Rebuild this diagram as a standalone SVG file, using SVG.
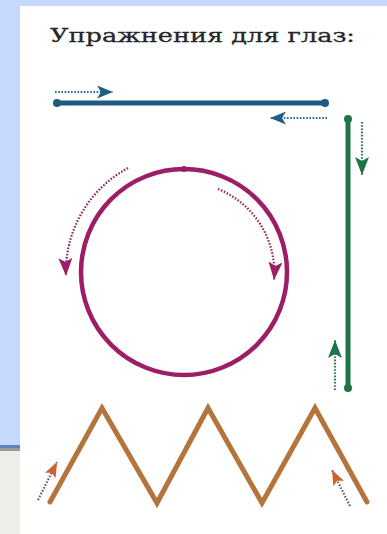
<svg xmlns="http://www.w3.org/2000/svg" width="387" height="534" viewBox="0 0 387 534">
<style>
.dot{fill:none;stroke-width:2.2;stroke-dasharray:1.6 1.6}
.title{font-family:"DejaVu Serif","Liberation Serif",serif;font-size:19px;fill:#262626;stroke:#262626;stroke-width:0.3}
</style>
<defs>
<marker id="ab" markerUnits="userSpaceOnUse" markerWidth="16" markerHeight="13" refX="16" refY="6.5" orient="auto"><path d="M0,0 L16,6.5 L0,13 L4,6.5 z" fill="#1f5f86"/></marker>
<marker id="ag" markerUnits="userSpaceOnUse" markerWidth="18" markerHeight="14" refX="18" refY="7" orient="auto"><path d="M0,0 L18,7 L0,14 L4,7 z" fill="#1f7447"/></marker>
<marker id="am" markerUnits="userSpaceOnUse" markerWidth="18" markerHeight="14" refX="18" refY="7" orient="auto"><path d="M0,0 L18,7 L0,14 L4,7 z" fill="#9c1f66"/></marker>
<marker id="ao" markerUnits="userSpaceOnUse" markerWidth="15" markerHeight="12" refX="15" refY="6" orient="auto"><path d="M0,0 L15,6 L0,12 L3,6 z" fill="#cf632f"/></marker>
</defs>
<rect x="0" y="0" width="387" height="534" fill="#ffffff"/>
<rect x="0" y="0" width="387" height="6" fill="#c6d8fb"/>
<rect x="0" y="0" width="20" height="445" fill="#c6d8fb"/>
<rect x="0" y="445" width="20" height="3" fill="#5b82c4"/>
<rect x="0" y="448" width="20" height="3" fill="#9a9a9a"/>
<rect x="0" y="451" width="20" height="83" fill="#efede8"/>
<g id="title"><text class="title" x="50" y="42" textLength="305" lengthAdjust="spacingAndGlyphs">Упражнения для глаз:</text></g>
<g id="blue-line">
<line x1="57" y1="103" x2="325" y2="103" stroke="#1f5a84" stroke-width="5" stroke-linecap="round"/>
<circle cx="57" cy="103" r="4" fill="#1f5a84"/>
<circle cx="325" cy="103" r="4" fill="#1f5a84"/>
</g>
<g id="green-line">
<line x1="348" y1="119" x2="348" y2="388" stroke="#1f7447" stroke-width="5" stroke-linecap="round"/>
<circle cx="348" cy="119" r="4" fill="#1f7447"/>
<circle cx="348" cy="388" r="4" fill="#1f7447"/>
</g>
<g id="circle">
<circle cx="184" cy="272" r="103" fill="none" stroke="#9c1f66" stroke-width="4.5"/>
<circle cx="184" cy="169" r="3" fill="#9c1f66"/>
</g>
<g id="zigzag">
<polyline points="50,502 102,408 157,503 208,408 262,503 315,408 367,502" fill="none" stroke="#b5743b" stroke-width="5" stroke-linejoin="miter" stroke-linecap="round"/>
</g>
<g id="connectors">
<path class="dot" d="M55,92 L113,92" stroke="#2a6a92" marker-end="url(#ab)"/>
<path class="dot" d="M327,118 L270,118" stroke="#2a6a92" marker-end="url(#ab)"/>
<path class="dot" d="M362,122 L362,175" stroke="#2a7a50" marker-end="url(#ag)"/>
<path class="dot" d="M335,390 L335,340" stroke="#2a7a50" marker-end="url(#ag)"/>
<path class="dot" d="M128,168 A118,118 0 0 0 66,276" stroke="#8a2a5e" marker-end="url(#am)"/>
<path class="dot" d="M218,189 A90,90 0 0 1 274,280" stroke="#8a2a5e" marker-end="url(#am)"/>
<path class="dot" d="M38,500 L57,462" stroke="#6a5a60" marker-end="url(#ao)"/>
<path class="dot" d="M350,506 L332,470" stroke="#6a5a60" marker-end="url(#ao)"/>
</g>
</svg>
